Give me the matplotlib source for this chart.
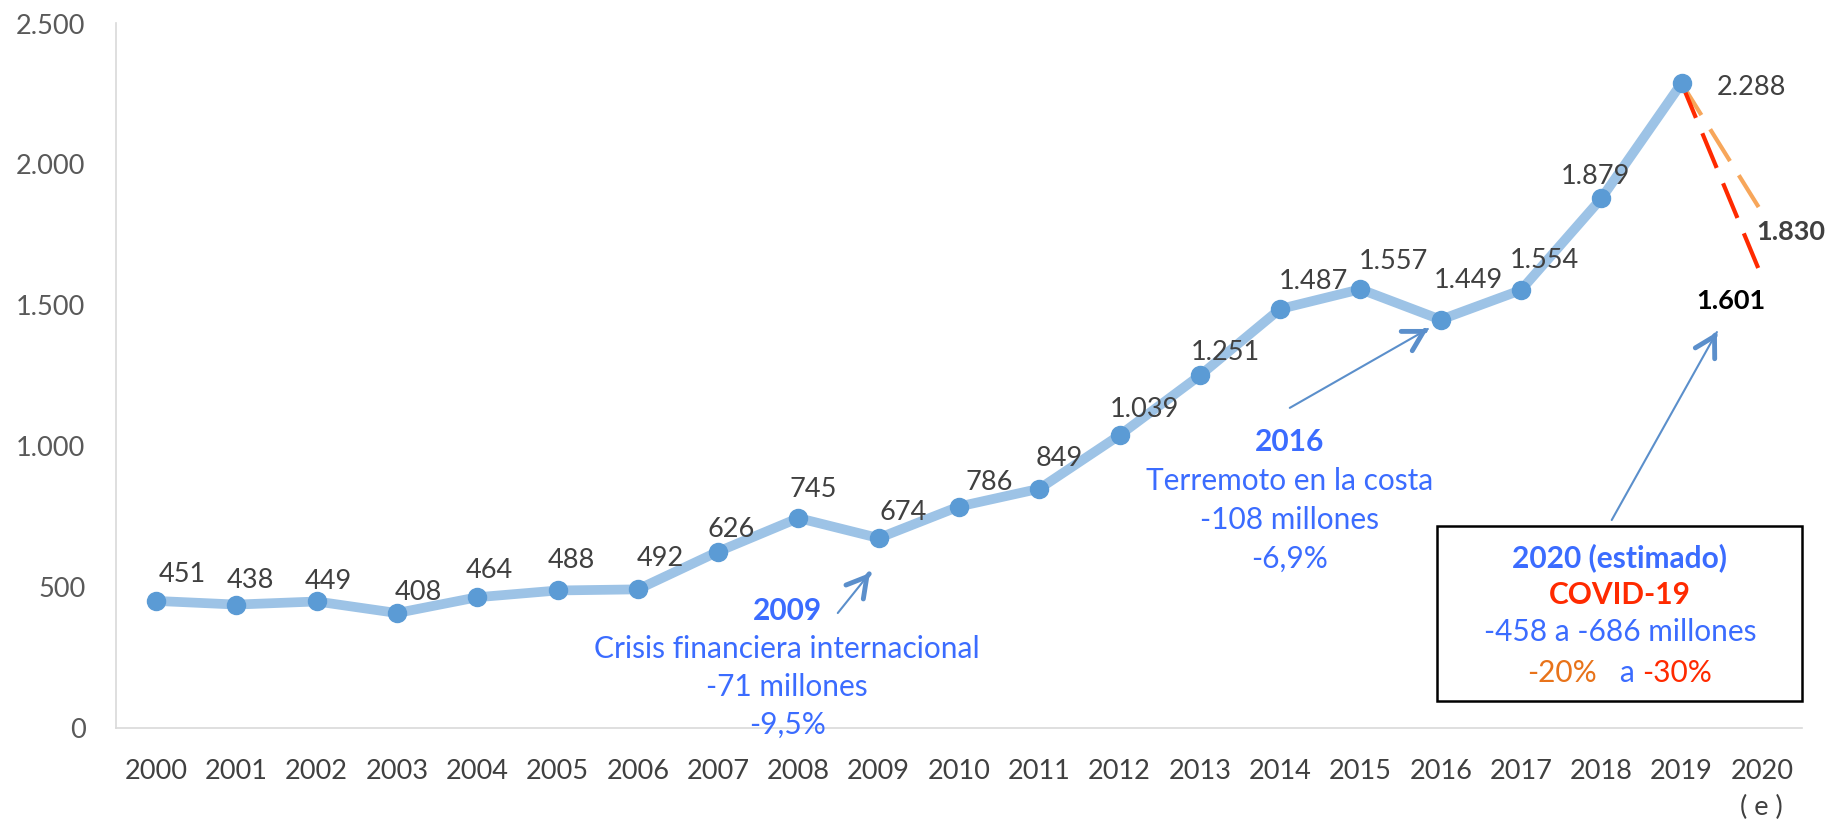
import matplotlib
matplotlib.use("Agg")
import matplotlib.pyplot as plt
from matplotlib.patches import Rectangle

plt.rcParams['font.family'] = ['Lato', 'DejaVu Sans']

# data
years = ['2000', '2001', '2002', '2003', '2004', '2005', '2006', '2007', '2008', '2009',
         '2010', '2011', '2012', '2013', '2014', '2015', '2016', '2017', '2018', '2019',
         '2020\n( e )']
values = [451, 438, 449, 408, 464, 488, 492, 626, 745, 674,
          786, 849, 1039, 1251, 1487, 1557, 1449, 1554, 1879, 2288]
labels = ['451', '438', '449', '408', '464', '488', '492', '626', '745', '674',
          '786', '849', '1.039', '1.251', '1.487', '1.557', '1.449', '1.554', '1.879', '2.288']
est_20 = 1830   # -20 %
est_30 = 1601   # -30 %
yticks = [0, 500, 1000, 1500, 2000, 2500]
ytick_labels = ['0', '500', '1.000', '1.500', '2.000', '2.500']

# label offsets in pixels (style only)
label_off = [(26, 26), (14, 24), (12, 20), (21, 21), (12, 27), (14, 30), (22, 31),
             (13, 22), (15, 29), (24, 26), (30, 24), (20, 30), (25, 26), (26, 23),
             (33, 27), (33, 28), (28, 39), (23, 30), (-6, 22), (70, -4)]

BLUE_TXT = '#3B6CFF'
ARROW = '#5B8FCB'
ORANGE = '#F7A65A'
RED = '#FF2A00'
FS_NUM = 19.5
FS_TXT = 21.5

fig = plt.figure(figsize=(18.42, 8.22), dpi=100)
ax = fig.add_axes([116 / 1842, 1 - 728 / 822, (1802 - 116) / 1842, (728 - 23.5) / 822])
ax.set_xlim(-0.5, 20.5)
ax.set_ylim(0, 2500)

x = list(range(len(values)))
n = len(values) - 1
ax.plot([n, n + 1], [values[-1], est_20], color=ORANGE, lw=3, dashes=(9, 4),
        solid_capstyle='butt', zorder=2)
ax.plot([n, n + 1], [values[-1], est_30], color=RED, lw=3, dashes=(9, 4),
        solid_capstyle='butt', zorder=2)
ax.plot(x, values, color='#9DC3E6', lw=7, solid_joinstyle='round', zorder=3)
ax.plot(x, values, ls='none', marker='o', ms=13, color='#5B9BD5', zorder=4)

for i, (v, lab) in enumerate(zip(values, labels)):
    ax.annotate(lab, (i, v), xytext=label_off[i], textcoords='offset pixels',
                ha='center', va='center', fontsize=FS_NUM, color='#404040', zorder=5)
ax.annotate('1.830', (n + 1, est_20), xytext=(29, -20), textcoords='offset pixels',
            ha='center', va='center', fontsize=FS_NUM, color='#404040',
            fontweight='bold', annotation_clip=False)
ax.annotate('1.601', (n + 1, est_30), xytext=(-31, -24), textcoords='offset pixels',
            ha='center', va='center', fontsize=FS_NUM, color='black', fontweight='bold')

# axes styling
for s in ['top', 'right']:
    ax.spines[s].set_visible(False)
for s in ['left', 'bottom']:
    ax.spines[s].set_color('#D9D9D9')
    ax.spines[s].set_linewidth(1.2)
ax.set_xticks(range(len(years)))
ax.set_xticklabels(years, fontsize=FS_NUM, color='#404040', linespacing=1.55)
ax.set_yticks(yticks)
ax.set_yticklabels(ytick_labels, fontsize=FS_NUM, color='#595959')
ax.tick_params(axis='x', length=0, pad=22)
ax.tick_params(axis='y', length=0, pad=22)


def block(xc, yc, lines, gap=37):
    for k, (txt, col, bold) in enumerate(lines):
        ax.annotate(txt, (xc, yc), xytext=(0, -k * gap), textcoords='offset pixels',
                    ha='center', va='center', fontsize=FS_TXT, color=col,
                    fontweight='bold' if bold else 'normal', annotation_clip=False)


def arrow(tail, head):
    ax.annotate('', xy=head, xytext=tail,
                arrowprops=dict(arrowstyle='-', color=ARROW, lw=1.5,
                                shrinkA=0, shrinkB=0))
    dx = (head[0] - tail[0]) * 0.02
    dy = (head[1] - tail[1]) * 0.02
    ax.annotate('', xy=head, xytext=(head[0] - dx, head[1] - dy),
                arrowprops=dict(arrowstyle='->,head_length=0.7,head_width=0.4',
                                color=ARROW, lw=3.5, shrinkA=0, shrinkB=0,
                                mutation_scale=20))


block(7.86, 415, [('2009', BLUE_TXT, True),
                  ('Crisis financiera internacional', BLUE_TXT, False),
                  ('-71 millones', BLUE_TXT, False),
                  ('-9,5%', BLUE_TXT, False)], gap=38)
arrow((8.49, 408), (8.89, 550))

block(14.12, 1015, [('2016', BLUE_TXT, True),
                    ('Terremoto en la costa', BLUE_TXT, False),
                    ('-108 millones', BLUE_TXT, False),
                    ('-6,9%', BLUE_TXT, False)], gap=39)
arrow((14.12, 1136), (15.84, 1416))

# COVID box
ax.add_patch(Rectangle((15.95, 96), 20.5 - 15.95, 717 - 96, fill=False,
                       edgecolor='black', lw=1.8, clip_on=False, zorder=6))
block(18.23, 603, [('2020 (estimado)', BLUE_TXT, True),
                   ('COVID-19', RED, True),
                   ('-458 a -686 millones', BLUE_TXT, False)], gap=37)
arrow((18.13, 738), (19.44, 1405))

# multi-coloured last line of the box
pieces = [('-20%', '#E8731A'), ('   a ', BLUE_TXT), ('-30%', RED)]
fig.canvas.draw()
r = fig.canvas.get_renderer()
texts = []
for txt, col in pieces:
    t = ax.annotate(txt, (18.23, 195), xytext=(0, 0), textcoords='offset pixels',
                    ha='left', va='center', fontsize=FS_TXT, color=col)
    texts.append(t)
widths = [t.get_window_extent(r).width for t in texts]
start = -sum(widths) / 2
for t, w in zip(texts, widths):
    t.set_position((start, 0))
    start += w

fig.savefig('out.png', dpi=100)
